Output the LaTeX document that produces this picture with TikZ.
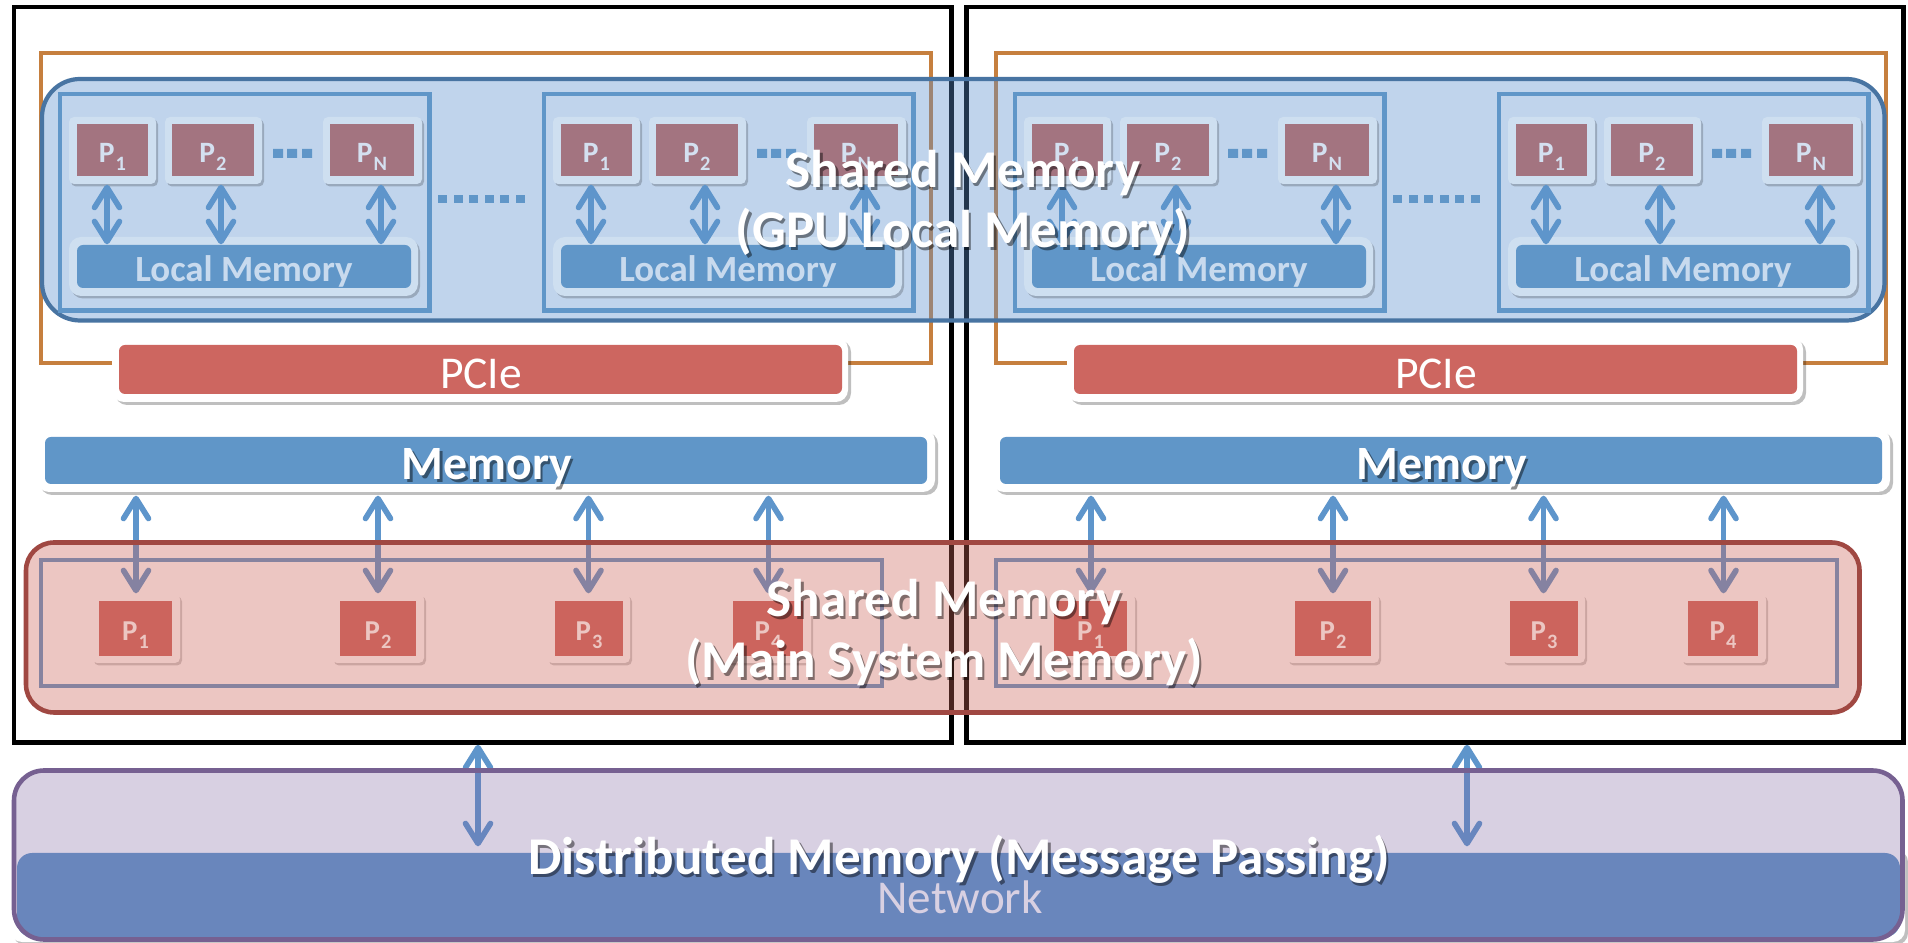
\documentclass[tikz,border=0pt]{standalone}
\usepackage{fontspec}
\setmainfont{Carlito}
\usetikzlibrary{arrows.meta,calc,fit,shadows}

\definecolor{cardorange}{RGB}{198,127,62}
\definecolor{gpufill}{RGB}{91,143,206}
\definecolor{gpuedge}{RGB}{72,116,162}
\definecolor{smfill}{RGB}{203,99,88}
\definecolor{smedge}{RGB}{160,72,66}
\definecolor{dmfill}{RGB}{128,100,162}
\definecolor{dmedge}{RGB}{118,96,145}
\definecolor{memblue}{RGB}{96,150,200}
\definecolor{linkblue}{RGB}{94,149,203}
\definecolor{pciered}{RGB}{205,102,96}
\definecolor{gpucorecol}{RGB}{163,116,128}
\definecolor{gpupadcol}{RGB}{206,223,240}
\definecolor{gputextcol}{RGB}{212,224,240}
\definecolor{lmtextcol}{RGB}{200,218,238}

% processor label with a low subscript
\newcommand\proclabel[1]{P\kern0.3pt\raisebox{-2.3pt}{\fontsize{5.8pt}{6pt}\selectfont #1}}

\tikzset{
  every node/.style={inner sep=0pt},
  link/.style={draw=linkblue, line width=1.6pt, line cap=round, line join=round,
    {Straight Barb[round,length=2mm,width=2.5mm]}-{Straight Barb[round,length=2mm,width=2.5mm]}},
  cluster/.style={draw=black, line width=1.3pt},
  cardframe/.style={draw=cardorange, line width=1.15pt},
  dieframe/.style={draw=memblue, line width=1.15pt},
  gpuregion/.style={draw=gpuedge, line width=1.2pt, fill=gpufill, fill opacity=0.38, rounded corners=3.8mm},
  smregion/.style={draw=smedge, line width=1.3pt, fill=smfill, fill opacity=0.365, rounded corners=2.8mm},
  dmregion/.style={draw=dmedge, line width=1.3pt, fill=dmfill, fill opacity=0.3, rounded corners=3mm},
  corepad/.style={fill=gpupadcol, rounded corners=0.5mm,
    drop shadow={shadow xshift=0.2mm, shadow yshift=-0.25mm, opacity=0.2, fill=black}},
  gpucore/.style={fill=gpucorecol},
  gpulbl/.style={anchor=base, yshift=-1.2mm, text=gputextcol, font=\fontsize{8.4pt}{10pt}\selectfont\bfseries},
  lmpad/.style={corepad, rounded corners=1.2mm},
  lmbar/.style={fill=memblue, rounded corners=0.6mm},
  lmtext/.style={anchor=base, text=lmtextcol, font=\fontsize{10.5pt}{12pt}\selectfont\bfseries},
  whitepad/.style={fill=white, rounded corners=1.2mm,
    drop shadow={shadow xshift=0.3mm, shadow yshift=-0.3mm, opacity=0.25, fill=black}},
  pciebar/.style={fill=pciered, rounded corners=0.6mm},
  membar/.style={fill=memblue, rounded corners=0.6mm},
  pcietext/.style={anchor=base, text=white, font=\fontsize{12.95pt}{15pt}\selectfont},
  memtext/.style={anchor=base, text=white, font=\fontsize{13.6pt}{16pt}\selectfont\bfseries},
  cpupad/.style={fill=white, rounded corners=0.5mm,
    drop shadow={shadow xshift=0.2mm, shadow yshift=-0.25mm, opacity=0.2, fill=black}},
  cpucore/.style={fill=pciered},
  cpulbl/.style={anchor=base, yshift=-1.15mm, text=white, font=\fontsize{8.2pt}{10pt}\selectfont\bfseries},
  netbar/.style={fill=memblue, rounded corners=1.5mm},
  nettext/.style={anchor=base, text=white, font=\fontsize{13.4pt}{16pt}\selectfont},
  bigtext/.style={anchor=base, text=white, font=\fontsize{15.1pt}{18pt}\selectfont\bfseries},
  txtshade/.style={text=black, text opacity=0.45},
}

% one GPU: frame, N cores with their links, and the local memory
\newcommand\gpudie[2]{%
  \node[dieframe, fit={(#2+2,94) (#2+371.5,310.5)}] (#1) {};
  \node[corepad, fit={(#2+11,117) (#2+98,184)}]  (#1padA) {};
  \node[corepad, fit={(#2+107,117) (#2+204,184)}] (#1padB) {};
  \node[corepad, fit={(#2+265,117) (#2+364,184)}] (#1padN) {};
  \node[gpucore, fit={(#2+19,124) (#2+90,176)}]  (#1coreA) {};
  \node[gpucore, fit={(#2+114,124) (#2+196,176)}] (#1coreB) {};
  \node[gpucore, fit={(#2+272,124) (#2+356,176)}] (#1coreN) {};
  \node[gpulbl] (#1lblA) at (#1coreA.center) {\proclabel{1}};
  \node[gpulbl] (#1lblB) at (#1coreB.center) {\proclabel{2}};
  \node[gpulbl] (#1lblN) at (#1coreN.center) {\proclabel{N}};
  \fill[memblue] (#2+215,149) rectangle (#2+225,158)
                 (#2+229,149) rectangle (#2+239,158)
                 (#2+244,149) rectangle (#2+254,158);
  \node[lmpad, fit={(#2+11,237) (#2+360,296)}] (#1lmpad) {};
  \node[lmbar, fit={(#2+19,245) (#2+353,288)}] (#1lm) {};
  \node[lmtext] (#1lmlbl) at (#2+186,282) {Local Memory};
  \coordinate (#1xA) at (#2+49,0);
  \coordinate (#1xB) at (#2+163,0);
  \coordinate (#1xN) at (#2+323,0);
  \draw[link] (#1padA.south -| #1xA) -- (#1lm.north -| #1xA);
  \draw[link] (#1padB.south -| #1xB) -- (#1lm.north -| #1xB);
  \draw[link] (#1padN.south -| #1xN) -- (#1lm.north -| #1xN);
}

\begin{document}
\begin{tikzpicture}[x=0.01cm,y=-0.01cm]
\useasboundingbox (0,0) rectangle (1908,943);
\fill[white] (0,0) rectangle (1908,943);

% the two compute nodes
\node[cluster, fit={(14,7) (951.5,742.5)}] (nodeA) {};
\node[cluster, fit={(966.5,7) (1903.5,742.5)}] (nodeB) {};

% GPU cards
\node[cardframe, fit={(41,53) (931,363)}] (cardA) {};
\node[cardframe, fit={(996,53) (1886,363)}] (cardB) {};

% shared GPU memory region
\node[gpuregion, fit={(42,79) (1884.5,320.5)}] (gpushared) {};

\gpudie{dieAa}{58}
\gpudie{dieAb}{542}
\gpudie{dieBa}{1013}
\gpudie{dieBb}{1497}

% dots between the GPUs of each card
\foreach \o in {0,955}{
  \foreach \k in {0,...,5}{
    \fill[memblue] (438+\o+\k*15.6,195) rectangle +(9,8);
  }
}

\foreach \o/\n in {0/A,955/B}{
  % PCIe bus
  \node[whitepad, fit={(112+\o,337) (848+\o,402)}] (pciepad\n) {};
  \node[pciebar, fit={(119+\o,345) (842+\o,394)}] (pcie\n) {};
  \node[pcietext] (pcielbl\n) at (481+\o,389) {PCIe};
  % host memory
  \node[whitepad, fit={(37+\o,429) (935+\o,492)}] (mempad\n) {};
  \node[membar, fit={(45+\o,437) (927+\o,484)}] (mem\n) {};
  \node[memtext, txtshade] (memshd\n) at (489.5+\o,482.5) {Memory};
  \node[memtext] (memlbl\n) at (487+\o,480) {Memory};
  % processor sockets
  \node[dieframe, fit={(41+\o,560) (882+\o,686)}] (socket\n) {};
  \foreach \k/\a/\b/\c/\d in {1/92/180/99/172, 2/332/424/340/416, 3/547/630/555/623, 4/726/811/733/803}{
    \node[cpupad, fit={(\a+\o,594) (\b+\o,663)}] (cpupad\n\k) {};
    \node[cpucore, fit={(\c+\o,601) (\d+\o,656)}] (cpu\n\k) {};
    \node[cpulbl] (cpulbl\n\k) at (cpu\n\k.center) {\proclabel{\k}};
    \draw[link, shorten <=0.3mm] (cpupad\n\k.north |- mempad\n.south) -- (cpupad\n\k.north);
  }
}

% shared main memory region
\node[smregion, fit={(26,542.5) (1859.5,712.5)}] (hostshared) {};

% network
\node[whitepad, fit={(10,847) (1905,942)}] (netpad) {};
\node[netbar, fit={(17,853) (1900,937)}] (net) {};
\node[nettext] (netlbl) at (960,913) {Network};
\coordinate (upA) at (478,0);
\coordinate (upB) at (1467,0);
\draw[link] (nodeA.south -| upA) -- (netpad.north -| upA);
\draw[link] (nodeB.south -| upB) -- (netpad.north -| upB);

% distributed memory region
\node[dmregion, fit={(14,770.5) (1902.5,939.5)}] (msgpassing) {};

% region titles
\node[bigtext, txtshade] (gpuTitleShdA) at (965.5,190.5) {Shared Memory};
\node[bigtext, txtshade] (gpuTitleShdB) at (965.5,250.5) {(GPU Local Memory)};
\node[bigtext] (gpuTitleA) at (963,188) {Shared Memory};
\node[bigtext] (gpuTitleB) at (963,248) {(GPU Local Memory)};

\node[bigtext, txtshade] (hostTitleShdA) at (946.5,619.5) {Shared Memory};
\node[bigtext, txtshade] (hostTitleShdB) at (946.5,680.5) {(Main System Memory)};
\node[bigtext] (hostTitleA) at (944,617) {Shared Memory};
\node[bigtext] (hostTitleB) at (944,678) {(Main System Memory)};

\node[bigtext, txtshade] (dmTitleShd) at (961.5,877.5) {Distributed Memory (Message Passing)};
\node[bigtext] (dmTitle) at (959,875) {Distributed Memory (Message Passing)};
\end{tikzpicture}
\end{document}
